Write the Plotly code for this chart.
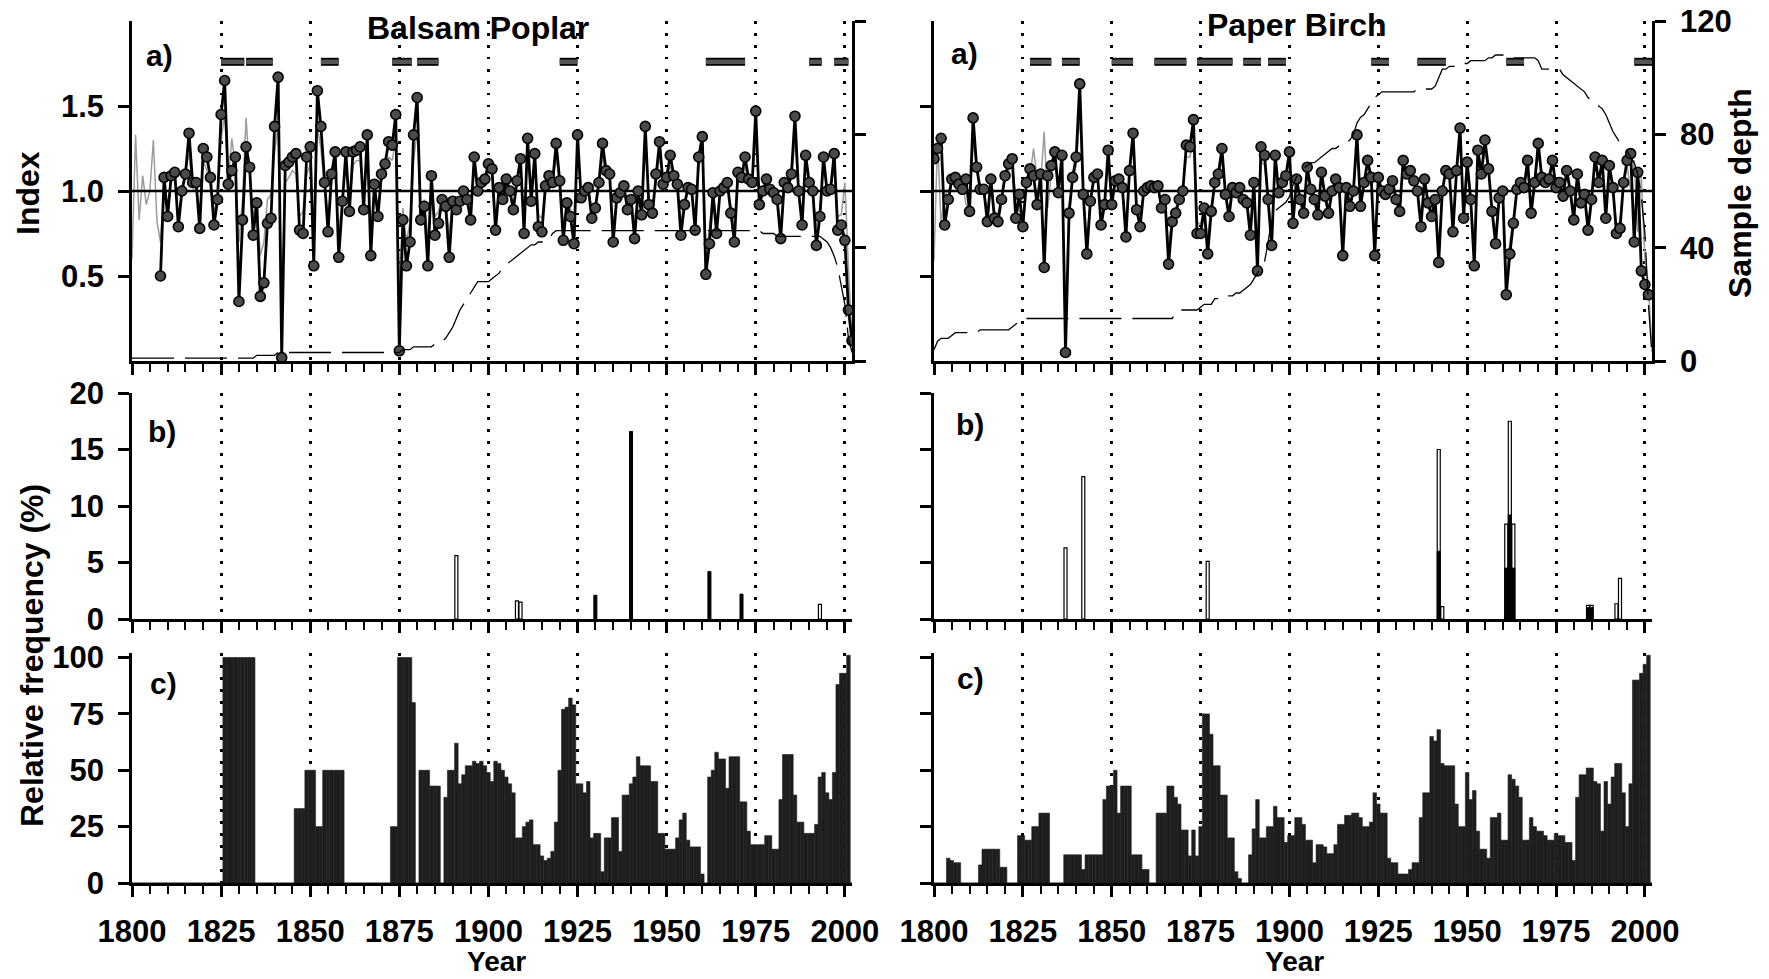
import plotly.graph_objects as go

# ---------------- data ----------------
YEAR_MIN, YEAR_MAX = 1800, 2002
YEARS = list(range(1800, 2003))
MAJOR_YEARS = [1800, 1825, 1850, 1875, 1900, 1925, 1950, 1975, 2000]
MAJOR_LABELS = ["1800", "1825", "1850", "1875", "1900", "1925", "1950", "1975", "2000"]
MINOR_YEARS = list(range(1805, 2002, 5))
BASELINE = 1.0
PERIOD_Y = 1.76

# Balsam Poplar index (1808-2002)
BP_INDEX_YEARS = list(range(1808, 2003))
BP_INDEX = [
    0.50, 1.08,
    0.85, 1.09, 1.11, 0.79, 1.00, 1.10, 1.34, 1.05, 1.05, 0.78,
    1.25, 1.20, 1.08, 0.80, 0.95, 1.45, 1.65, 1.04, 1.12, 1.20,
    0.35, 0.83, 1.26, 1.14, 0.74, 0.93, 0.38, 0.46, 0.81, 0.84,
    1.38, 1.67, 0.02, 1.15, 1.17, 1.20, 1.22, 0.77, 0.75, 1.20,
    1.26, 0.56, 1.59, 1.38, 1.05, 0.76, 1.10, 1.23, 0.61, 0.94,
    1.23, 0.88, 1.23, 1.24, 1.26, 0.89, 1.33, 0.62, 1.04, 0.85,
    1.10, 1.16, 1.29, 1.27, 1.45, 0.06, 0.83, 0.56, 0.70, 1.33,
    1.55, 0.83, 0.91, 0.56, 1.09, 0.74, 0.81, 0.95, 0.91, 0.61,
    0.94, 0.89, 0.94, 1.00, 0.95, 0.83, 1.20, 1.00, 1.05, 1.07,
    1.16, 1.13, 0.77, 1.02, 0.95, 1.07, 1.00, 0.89, 1.06, 1.19,
    0.75, 1.31, 0.94, 1.22, 0.79, 0.76, 1.03, 1.09, 1.05, 1.28,
    1.06, 0.71, 0.93, 0.85, 0.69, 1.33, 0.96, 1.00, 1.02, 0.84,
    0.90, 1.05, 1.28, 1.12, 1.10, 0.70, 0.96, 0.99, 1.03, 0.89,
    0.95, 0.72, 1.00, 0.86, 1.38, 0.92, 0.87, 1.10, 1.29, 1.04,
    1.08, 1.21, 1.09, 1.04, 0.74, 0.92, 1.02, 1.01, 0.77, 1.20,
    1.32, 0.51, 0.69, 0.99, 0.75, 1.00, 1.02, 1.05, 0.87, 0.70,
    1.11, 1.08, 1.20, 1.07, 1.05, 1.47, 0.92, 1.00, 1.07, 1.01,
    0.99, 0.95, 0.72, 1.05, 1.02, 1.10, 1.44, 1.00, 0.80, 1.21,
    1.05, 1.00, 0.68, 0.85, 1.20, 1.00, 1.01, 1.22, 0.77, 0.80,
    0.71, 0.30, 0.12,
]

# Balsam Poplar thin grey series (1800-2002)
BP_GREY = [
    0.60, 1.33, 0.83, 1.09, 0.92, 1.00, 1.30, 0.82, 0.70, 1.05,
    0.90, 1.06, 1.08, 0.85, 1.00, 1.12, 1.22, 1.02, 1.00, 0.86,
    1.18, 1.12, 1.02, 0.88, 0.97, 1.30, 1.45, 1.06, 1.31, 1.15,
    0.70, 0.95, 1.43, 1.10, 0.85, 0.95, 0.62, 0.70, 0.95, 0.98,
    1.22, 1.40, 0.40, 1.05, 1.08, 1.12, 1.10, 0.85, 0.88, 1.10,
    1.15, 0.72, 1.38, 1.25, 1.02, 0.86, 1.05, 1.15, 0.75, 0.96,
    1.15, 0.93, 1.15, 1.18, 1.18, 0.92, 1.25, 0.75, 1.02, 0.90,
    1.06, 1.10, 1.20, 1.18, 1.30, 0.40, 0.90, 0.70, 0.82, 1.18,
    1.35, 0.90, 0.95, 0.72, 1.05, 0.85, 0.88, 0.97, 0.94, 0.75,
    0.97, 0.92, 0.96, 1.02, 0.97, 0.90, 1.12, 1.02, 1.04, 1.05,
    1.12, 1.10, 0.85, 1.01, 0.97, 1.05, 1.00, 0.92, 1.04, 1.14,
    0.82, 1.22, 0.96, 1.16, 0.86, 0.84, 1.02, 1.06, 1.04, 1.20,
    1.04, 0.80, 0.95, 0.90, 0.80, 1.22, 0.97, 1.00, 1.01, 0.90,
    0.93, 1.04, 1.20, 1.08, 1.07, 0.80, 0.97, 0.99, 1.02, 0.92,
    0.96, 0.82, 1.00, 0.90, 1.28, 0.94, 0.90, 1.07, 1.20, 1.03,
    1.06, 1.15, 1.06, 1.03, 0.82, 0.94, 1.01, 1.01, 0.84, 1.14,
    1.22, 0.62, 0.78, 0.99, 0.82, 1.00, 1.02, 1.04, 0.91, 0.80,
    1.08, 1.06, 1.14, 1.05, 1.04, 1.32, 0.94, 1.00, 1.05, 1.01,
    0.99, 0.96, 0.80, 1.04, 1.02, 1.07, 1.30, 1.00, 0.86, 1.14,
    1.04, 1.00, 0.78, 0.90, 1.14, 1.00, 1.01, 1.14, 0.85, 0.86,
    1.05, 0.55, 0.12,
]

# Balsam Poplar sample depth (1800-2002)
BP_DEPTH = [
    1, 1, 1, 1, 1, 1, 1, 1, 1, 1,
    1, 1, 1, 1, 1, 1, 1, 1, 1, 1,
    1, 1, 1, 1, 1, 1, 1, 1, 1, 1,
    1, 1, 1, 1, 1, 2, 2, 2, 2, 2,
    2, 3, 3, 3, 3, 3, 3, 3, 3, 3,
    3, 3, 3, 3, 3, 3, 3, 3, 3, 3,
    3, 3, 3, 3, 3, 3, 3, 3, 3, 3,
    3, 3, 3, 3, 3, 3, 4, 4, 4, 5,
    5, 5, 5, 5, 5, 6, 6, 7, 8, 10,
    12, 15, 18, 20, 22, 24, 26, 28, 28, 28,
    28, 29, 30, 31, 33, 34, 35, 36, 37, 38,
    39, 40, 41, 41, 42, 42, 43, 43, 45, 46,
    46, 46, 46, 46, 46, 46, 46, 46, 46, 46,
    46, 46, 46, 46, 46, 46, 46, 46, 46, 46,
    46, 46, 46, 46, 46, 46, 46, 46, 46, 46,
    46, 46, 46, 46, 46, 46, 46, 46, 46, 46,
    46, 46, 46, 46, 46, 46, 46, 46, 46, 46,
    46, 46, 46, 46, 46, 46, 46, 45, 45, 45,
    45, 44, 44, 44, 44, 44, 44, 44, 44, 44,
    44, 44, 44, 44, 43, 42, 40, 37, 33, 27,
    20, 8, 3,
]

# Paper Birch index (1800-2001)
PB_INDEX_YEARS = list(range(1800, 2002))
PB_INDEX = [
    1.19, 1.25, 1.31, 0.80, 0.95, 1.07, 1.08, 1.04, 1.01, 1.07,
    0.88, 1.43, 1.14, 1.01, 1.01, 0.82, 1.07, 0.84, 0.82, 0.95,
    1.09, 1.16, 1.19, 0.84, 0.98, 0.79, 1.05, 1.13, 1.09, 0.92,
    1.10, 0.55, 1.09, 1.15, 1.23, 0.99, 1.21, 0.05, 0.87, 1.08,
    1.20, 1.63, 0.98, 0.63, 0.94, 1.08, 1.10, 0.80, 0.92, 1.24,
    0.92, 1.06, 1.07, 1.02, 0.73, 1.12, 1.34, 0.89, 0.79, 1.00,
    1.02, 1.03, 1.02, 1.03, 0.90, 0.95, 0.57, 0.82, 0.87, 0.95,
    1.00, 1.27, 1.26, 1.42, 0.75, 0.75, 0.90, 0.63, 0.88, 1.05,
    1.10, 1.25, 0.98, 0.85, 1.02, 0.99, 1.02, 0.95, 0.93, 0.74,
    1.05, 0.53, 1.26, 1.21, 0.95, 0.68, 1.21, 0.99, 1.05, 1.09,
    1.23, 0.81, 1.07, 0.95, 0.87, 1.14, 1.01, 0.95, 0.86, 1.11,
    0.97, 0.87, 1.00, 1.07, 1.02, 0.62, 1.02, 0.91, 1.00, 1.33,
    0.91, 1.05, 1.18, 1.08, 0.62, 1.08, 1.00, 0.98, 1.01, 1.06,
    0.95, 0.88, 1.18, 1.10, 1.12, 1.06, 1.00, 0.79, 1.07, 0.93,
    0.85, 0.95, 0.58, 1.00, 1.12, 1.10, 0.76, 1.12, 1.37, 0.84,
    1.17, 0.95, 0.56, 1.24, 1.10, 1.30, 1.13, 0.88, 0.69, 0.96,
    1.00, 0.39, 0.63, 0.81, 1.01, 1.05, 1.02, 1.18, 0.87, 1.05,
    1.28, 1.08, 1.05, 1.07, 1.18, 1.02, 1.05, 0.97, 1.12, 1.00,
    0.83, 1.10, 0.93, 0.98, 0.77, 0.95, 1.20, 1.05, 1.18, 0.84,
    1.15, 1.02, 0.75, 0.78, 1.05, 1.18, 1.22, 0.70, 1.11, 0.53,
    0.45, 0.39,
]

# Paper Birch thin grey series (1800-2002)
PB_GREY = [
    0.59, 1.30, 0.80, 0.98, 1.00, 1.05, 1.04, 1.00, 1.05, 0.92,
    0.90, 1.30, 1.12, 1.00, 1.01, 0.88, 1.05, 0.88, 0.87, 0.96,
    1.06, 1.12, 1.15, 0.98, 0.88, 0.85, 1.02, 1.08, 1.25, 1.08,
    1.05, 1.35, 0.90, 1.10, 1.20, 1.00, 1.12, 0.30, 0.92, 1.05,
    1.15, 1.45, 0.98, 0.72, 0.96, 1.05, 1.07, 0.85, 0.94, 1.18,
    0.94, 1.04, 1.05, 1.01, 0.80, 1.10, 1.25, 0.92, 0.84, 1.00,
    1.01, 1.02, 1.01, 1.02, 0.92, 0.96, 0.68, 0.86, 0.90, 0.97,
    1.00, 1.20, 1.20, 1.30, 0.82, 0.80, 0.92, 0.72, 0.92, 1.03,
    1.08, 1.18, 0.99, 0.89, 1.01, 0.99, 1.01, 0.96, 0.94, 0.80,
    1.04, 0.65, 1.18, 1.15, 0.96, 0.76, 1.15, 0.99, 1.04, 1.07,
    1.18, 0.86, 1.05, 0.96, 0.90, 1.10, 1.01, 0.96, 0.90, 1.08,
    0.98, 0.90, 1.00, 1.05, 1.01, 0.72, 1.01, 0.93, 1.00, 1.25,
    0.93, 1.04, 1.14, 1.06, 0.72, 1.06, 1.00, 0.98, 1.01, 1.05,
    0.96, 0.91, 1.14, 1.08, 1.10, 1.05, 1.00, 0.85, 1.05, 0.95,
    0.88, 0.96, 0.68, 1.00, 1.10, 1.08, 0.82, 1.10, 1.28, 0.88,
    1.14, 0.96, 0.66, 1.20, 1.08, 1.24, 1.10, 0.90, 0.76, 0.97,
    1.00, 0.50, 0.70, 0.85, 1.01, 1.04, 1.02, 1.14, 0.90, 1.04,
    1.22, 1.07, 1.04, 1.06, 1.14, 1.02, 1.04, 0.98, 1.10, 1.00,
    0.87, 1.08, 0.95, 0.98, 0.82, 0.96, 1.16, 1.04, 1.15, 0.88,
    1.12, 1.02, 0.80, 0.82, 1.04, 1.15, 1.00, 1.18, 0.76, 1.08,
    0.60, 0.45, 0.05,
]

# Paper Birch sample depth (1800-2002)
PB_DEPTH = [
    4, 7, 8, 8, 8, 9, 10, 10, 10, 10,
    10, 10, 10, 11, 11, 11, 11, 11, 11, 11,
    11, 11, 12, 13, 14, 15, 15, 15, 15, 15,
    15, 15, 15, 15, 15, 15, 15, 15, 15, 15,
    15, 15, 15, 15, 15, 15, 15, 15, 15, 15,
    15, 15, 15, 15, 15, 15, 15, 15, 15, 15,
    15, 15, 15, 15, 15, 15, 15, 15, 17, 18,
    18, 18, 18, 18, 18, 19, 20, 20, 20, 22,
    22, 22, 23, 23, 23, 24, 24, 25, 26, 27,
    29, 31, 33, 35, 42, 50, 53, 54, 55, 56,
    58, 62, 65, 67, 68, 69, 70, 70, 71, 72,
    73, 74, 75, 75, 76, 76, 77, 78, 80, 84,
    86, 87, 89, 91, 93, 94, 95, 95, 95, 95,
    95, 95, 95, 95, 95, 95, 96, 96, 96, 96,
    96, 97, 100, 103, 103, 104, 104, 104, 104, 105,
    105, 106, 106, 106, 106, 106, 107, 107, 108, 108,
    108, 107, 107, 107, 107, 107, 107, 107, 107, 107,
    106, 103, 103, 103, 103, 103, 103, 101, 100, 99,
    98, 97, 96, 95, 93, 92, 91, 90, 89, 87,
    84, 81, 79, 77, 76, 74, 72, 70, 66, 58,
    45, 20, 2,
]

# Period bars at the top of panel a)
BP_PERIOD_START = [1825, 1832, 1853, 1873, 1880, 1920, 1961, 1990, 1997]
BP_PERIOD_END = [1831.5, 1839.5, 1858, 1878.5, 1886, 1925, 1972, 1993.5, 2001]
PB_PERIOD_START = [1827, 1836, 1850, 1862, 1874, 1887, 1894, 1923, 1936, 1961, 1997]
PB_PERIOD_END = [1833, 1841, 1856, 1871, 1884, 1892, 1899, 1928, 1944, 1966, 2002]

# Panel b) relative frequencies (%)
BP_B_WHITE_YEARS = [1891, 1908, 1909, 1993]
BP_B_WHITE = [5.6, 1.6, 1.5, 1.3]
BP_B_BLACK_YEARS = [1930, 1940, 1962, 1971]
BP_B_BLACK = [2.1, 16.6, 4.2, 2.2]
PB_B_WHITE_YEARS = [1837, 1842, 1877, 1942, 1943, 1961, 1962, 1963, 1984, 1985, 1992, 1993]
PB_B_WHITE = [6.3, 12.6, 5.1, 15.0, 1.1, 8.4, 17.5, 8.4, 1.2, 1.2, 1.35, 3.6]
PB_B_BLACK_YEARS = [1942, 1961, 1962, 1963, 1984, 1985]
PB_B_BLACK = [6.0, 4.5, 9.2, 4.5, 1.0, 1.0]

# Panel c) relative frequencies (%) 1800-2002
BP_C = [
    0, 0, 0, 0, 0, 0, 0, 0, 0, 0,
    0, 0, 0, 0, 0, 0, 0, 0, 0, 0,
    0, 0, 0, 0, 0, 0, 100, 100, 100, 100,
    100, 100, 100, 100, 100, 0, 0, 0, 0, 0,
    0, 0, 0, 0, 0, 0, 33, 33, 33, 50,
    50, 50, 25, 25, 50, 50, 50, 50, 50, 50,
    0, 0, 0, 0, 0, 0, 0, 0, 0, 0,
    0, 0, 0, 25, 25, 100, 100, 100, 100, 80,
    0, 50, 50, 50, 43, 43, 43, 0, 38, 50,
    50, 62, 44, 48, 52, 52, 54, 53, 54, 52,
    49, 45, 54, 53, 50, 47, 44, 40, 20, 20,
    25, 27, 28, 17, 17, 12, 10, 11, 14, 27,
    50, 77, 78, 82, 79, 44, 44, 40, 45, 20,
    22, 22, 5, 20, 20, 29, 29, 14, 39, 39,
    44, 47, 56, 52, 52, 52, 45, 45, 22, 22,
    15, 15, 15, 20, 28, 31, 19, 16, 16, 16,
    4, 0, 47, 50, 58, 55, 55, 42, 56, 56,
    56, 36, 36, 23, 17, 17, 17, 17, 21, 21,
    15, 15, 37, 57, 57, 57, 39, 27, 27, 22,
    22, 22, 26, 47, 49, 40, 37, 49, 88, 93,
    93, 101, 0,
]
PB_C = [
    0, 0, 0, 0, 11, 10, 9, 9, 0, 0,
    0, 0, 0, 8, 15, 15, 15, 15, 15, 7,
    7, 0, 0, 0, 21, 21, 19, 19, 25, 25,
    31, 31, 31, 0, 0, 0, 0, 12.5, 12.5, 12.5,
    12.5, 12.5, 6, 12.5, 12.5, 12.5, 12.5, 12.5, 37, 43,
    43, 50, 31, 43, 43, 43, 12.5, 12.5, 12.5, 6,
    6, 0, 0, 31, 31, 31, 43, 43, 38, 35,
    23.5, 23.5, 12, 23.5, 12, 25, 75, 75, 66, 52,
    52, 39, 39, 20, 20, 5, 2, 0, 0, 12.5,
    24, 37, 20, 20, 25, 25, 34, 29, 29, 18,
    21, 21, 29, 29, 26, 19, 19, 9, 17, 17,
    16, 13, 13, 17, 26, 26, 30, 30, 31, 31,
    29, 25, 25, 27, 40, 35, 31, 31, 11, 9,
    9, 4, 4, 4, 6, 9, 9, 29, 40, 40,
    65, 63, 68, 53, 52, 52, 52, 35, 25, 25,
    49, 37, 41, 23, 15, 15, 11, 29, 29, 31,
    19, 19, 48, 46, 43, 38, 19, 19, 29, 25,
    23, 23, 21, 19, 19, 22, 21, 21, 18, 18,
    10, 38, 48, 48, 51, 51, 45, 44, 23, 45,
    35, 47, 53, 53, 40, 25, 44, 90, 90, 93,
    97, 101, 0,
]

# ---------------- styling ----------------
FONT = "Liberation Sans, Arial, Helvetica, sans-serif"
TICKFONT = dict(family=FONT, size=31, color="black", weight="bold")
LW = 2.5
W, H = 1769, 979


def px_x(p):
    return p / W


def px_y(p):
    return 1 - p / H


def period_xy(starts, ends):
    xs, ys = [], []
    for s, e in zip(starts, ends):
        xs += [s, e, None]
        ys += [PERIOD_Y, PERIOD_Y, None]
    return xs, ys


fig = go.Figure()


def add_top(xa, ya, ya2, idx_years, idx, grey, depth, pstart, pend):
    fig.add_trace(go.Scatter(x=YEARS, y=grey, mode="lines", xaxis=xa, yaxis=ya,
                             line=dict(color="#9c9c9c", width=1.5), showlegend=False))
    fig.add_trace(go.Scatter(x=[YEAR_MIN, YEAR_MAX], y=[BASELINE, BASELINE], mode="lines",
                             xaxis=xa, yaxis=ya, line=dict(color="black", width=2.5),
                             showlegend=False))
    fig.add_trace(go.Scatter(x=idx_years, y=idx, mode="lines+markers", xaxis=xa, yaxis=ya,
                             line=dict(color="black", width=2.8),
                             marker=dict(size=10, color="#4a4a4a",
                                         line=dict(color="black", width=1.6)),
                             showlegend=False))
    px_, py_ = period_xy(pstart, pend)
    fig.add_trace(go.Scatter(x=px_, y=py_, mode="lines", xaxis=xa, yaxis=ya,
                             line=dict(color="black", width=8), showlegend=False))
    fig.add_trace(go.Scatter(x=px_, y=py_, mode="lines", xaxis=xa, yaxis=ya,
                             line=dict(color="#555555", width=4.5), showlegend=False))
    fig.add_trace(go.Scatter(x=YEARS, y=depth, mode="lines", xaxis=xa, yaxis=ya2,
                             line=dict(color="black", width=1.3, dash="42px,11px"),
                             showlegend=False))


add_top("x", "y", "y2", BP_INDEX_YEARS, BP_INDEX, BP_GREY, BP_DEPTH,
        BP_PERIOD_START, BP_PERIOD_END)
add_top("x2", "y3", "y4", PB_INDEX_YEARS, PB_INDEX, PB_GREY, PB_DEPTH,
        PB_PERIOD_START, PB_PERIOD_END)


def add_b(xa, ya, wy, wv, by, bv):
    fig.add_trace(go.Bar(x=wy, y=wv, xaxis=xa, yaxis=ya, width=0.85,
                         marker=dict(color="white", line=dict(color="black", width=1.2)),
                         showlegend=False))
    fig.add_trace(go.Bar(x=by, y=bv, xaxis=xa, yaxis=ya, width=0.85,
                         marker=dict(color="black", line=dict(color="black", width=1.0)),
                         showlegend=False))


add_b("x3", "y5", BP_B_WHITE_YEARS, BP_B_WHITE, BP_B_BLACK_YEARS, BP_B_BLACK)
add_b("x4", "y6", PB_B_WHITE_YEARS, PB_B_WHITE, PB_B_BLACK_YEARS, PB_B_BLACK)

for xa, ya, vals in (("x5", "y7", BP_C), ("x6", "y8", PB_C)):
    fig.add_trace(go.Bar(x=YEARS, y=vals, xaxis=xa, yaxis=ya, width=1.0,
                         marker=dict(color="#1e1e1e", line=dict(color="#1e1e1e", width=0.6)),
                         showlegend=False))

# ---------------- axes ----------------
LEFT_DOM = [px_x(132), px_x(852)]
RIGHT_DOM = [px_x(934), px_x(1652)]
TOP_DOM = [px_y(361), px_y(21)]
MID_DOM = [px_y(619), px_y(393)]
BOT_DOM = [px_y(883), px_y(653)]


def xax(dom, anchor, labels):
    return dict(domain=dom, anchor=anchor, range=[YEAR_MIN, YEAR_MAX], automargin=False,
                tickmode="array", tickvals=MAJOR_YEARS, ticktext=MAJOR_LABELS,
                showticklabels=labels, tickfont=TICKFONT, ticks="outside",
                ticklen=11, tickwidth=LW, tickcolor="black", ticklabelstandoff=8,
                showline=True, linewidth=LW, linecolor="black", mirror=False,
                showgrid=True, gridcolor="black", gridwidth=2.5, griddash="2.5px,9.5px",
                zeroline=False,
                minor=dict(tickmode="array", tickvals=MINOR_YEARS, ticks="outside",
                           ticklen=8, tickwidth=2, tickcolor="black", showgrid=False))


def yax(dom, anchor, rng, vals, texts, labels, side="left", overlaying=None):
    d = dict(domain=dom, anchor=anchor, range=rng, tickmode="array", tickvals=vals,
             ticktext=texts, showticklabels=labels, tickfont=TICKFONT, ticks="outside",
             ticklen=11, tickwidth=LW, tickcolor="black", ticklabelstandoff=8,
             showline=True, linewidth=LW, linecolor="black", showgrid=False,
             zeroline=False, side=side, automargin=False)
    if overlaying:
        d["overlaying"] = overlaying
    return d


IDX_T = [0.5, 1.0, 1.5]
IDX_L = ["0.5", "1.0", "1.5"]
DEP_T = [0, 40, 80, 120]
DEP_L = ["0", "40", "80", "120"]
B_T = [0, 5, 10, 15, 20]
B_L = ["0", "5", "10", "15", "20"]
C_T = [0, 25, 50, 75, 100]
C_L = ["0", "25", "50", "75", "100"]

fig.update_layout(
    template="none",
    xaxis=xax(LEFT_DOM, "y", False),
    xaxis2=xax(RIGHT_DOM, "y3", False),
    xaxis3=xax(LEFT_DOM, "y5", False),
    xaxis4=xax(RIGHT_DOM, "y6", False),
    xaxis5=xax(LEFT_DOM, "y7", True),
    xaxis6=xax(RIGHT_DOM, "y8", True),
    yaxis=yax(TOP_DOM, "x", [0, 2.0], IDX_T, IDX_L, True),
    yaxis2=yax(TOP_DOM, "x", [0, 120], DEP_T, DEP_L, False, side="right", overlaying="y"),
    yaxis3=yax(TOP_DOM, "x2", [0, 2.0], IDX_T, IDX_L, False),
    yaxis4=yax(TOP_DOM, "x2", [0, 120], DEP_T, DEP_L, True, side="right", overlaying="y3"),
    yaxis5=yax(MID_DOM, "x3", [0, 20], B_T, B_L, True),
    yaxis6=yax(MID_DOM, "x4", [0, 20], B_T, B_L, False),
    yaxis7=yax(BOT_DOM, "x5", [0, 102], C_T, C_L, True),
    yaxis8=yax(BOT_DOM, "x6", [0, 102], C_T, C_L, False),
    barmode="overlay",
    width=W, height=H, autosize=False,
    margin=dict(l=0, r=0, t=0, b=0, pad=0),
    paper_bgcolor="white", plot_bgcolor="white",
    showlegend=False,
)

TITLE_FONT = dict(family=FONT, size=32, color="black", weight="bold")
YEAR_FONT = dict(family=FONT, size=28, color="black", weight="bold")
LETTER_FONT = dict(family=FONT, size=30, color="black", weight="bold")
ann = [
    ("Balsam Poplar", 478, 28, 0, TITLE_FONT),
    ("Paper Birch", 1297, 25, 0, TITLE_FONT),
    ("Index", 28, 193, -90, TITLE_FONT),
    ("Relative frequency (%)", 32, 656, -90, TITLE_FONT),
    ("Sample depth", 1740, 193, -90, TITLE_FONT),
    ("Year", 497, 961, 0, YEAR_FONT),
    ("Year", 1294, 961, 0, YEAR_FONT),
    ("a)", 159, 55, 0, LETTER_FONT),
    ("a)", 965, 54, 0, LETTER_FONT),
    ("b)", 162, 432, 0, LETTER_FONT),
    ("b)", 970, 424, 0, LETTER_FONT),
    ("c)", 163, 683, 0, LETTER_FONT),
    ("c)", 970, 678, 0, LETTER_FONT),
]
for text, x, y, ang, f in ann:
    fig.add_annotation(text=text, x=px_x(x), y=px_y(y), xref="paper", yref="paper",
                       showarrow=False, textangle=ang, font=f,
                       xanchor="center", yanchor="middle")

# remove the browser's default 8px page margin so the figure sits at the window origin
fig.write_html("out.html",
               config={"displayModeBar": False},
               post_script="document.body.style.margin='0px';"
                           "document.documentElement.style.overflow='hidden';")
